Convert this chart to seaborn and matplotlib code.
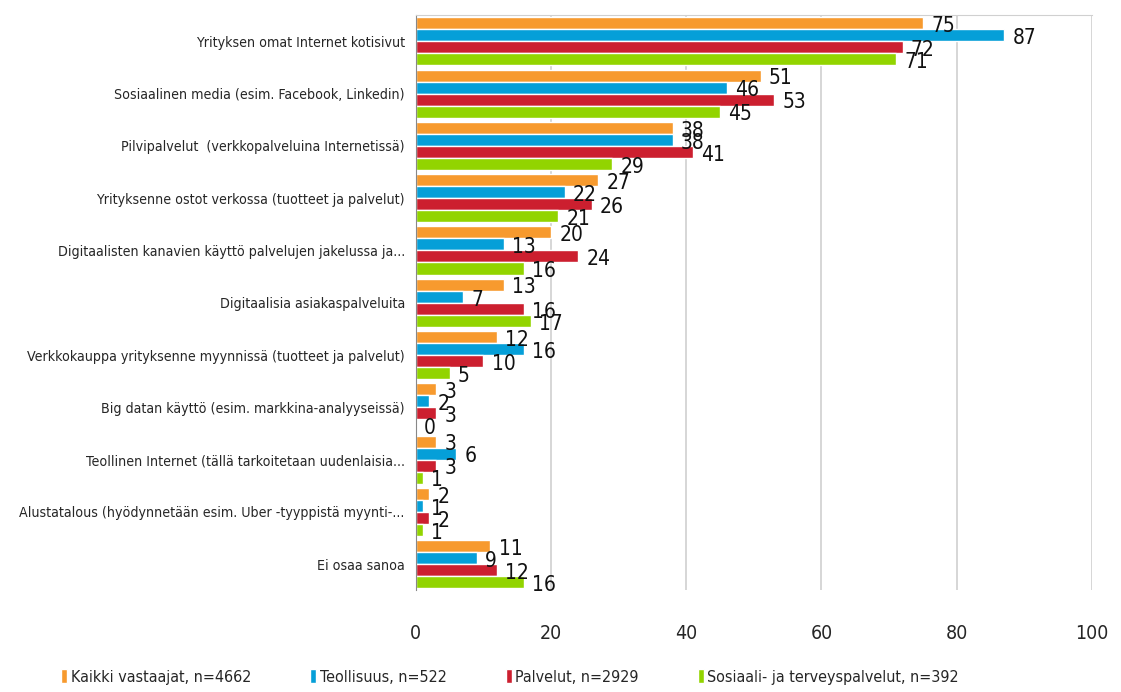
import pandas as pd
import seaborn as sns
import matplotlib.pyplot as plt

# data
categories = [
    "Yrityksen omat Internet kotisivut",
    "Sosiaalinen media (esim. Facebook, Linkedin)",
    "Pilvipalvelut  (verkkopalveluina Internetissä)",
    "Yrityksenne ostot verkossa (tuotteet ja palvelut)",
    "Digitaalisten kanavien käyttö palvelujen jakelussa ja...",
    "Digitaalisia asiakaspalveluita",
    "Verkkokauppa yrityksenne myynnissä (tuotteet ja palvelut)",
    "Big datan käyttö (esim. markkina-analyyseissä)",
    "Teollinen Internet (tällä tarkoitetaan uudenlaisia...",
    "Alustatalous (hyödynnetään esim. Uber -tyyppistä myynti-...",
    "Ei osaa sanoa",
]
series = [
    "Kaikki vastaajat, n=4662",
    "Teollisuus, n=522",
    "Palvelut, n=2929",
    "Sosiaali- ja terveyspalvelut, n=392",
]
kaikki = [75, 51, 38, 27, 20, 13, 12, 3, 3, 2, 11]
teollisuus = [87, 46, 38, 22, 13, 7, 16, 2, 6, 1, 9]
palvelut = [72, 53, 41, 26, 24, 16, 10, 3, 3, 2, 12]
sote = [71, 45, 29, 21, 16, 17, 5, 0, 1, 1, 16]
colors = ["#F79A2E", "#059FD8", "#CC1F2F", "#92D400"]

# long-form table for seaborn
rows = []
for name, vals in zip(series, [kaikki, teollisuus, palvelut, sote]):
    for cat, v in zip(categories, vals):
        rows.append({"kategoria": cat, "ryhma": name, "arvo": v})
df = pd.DataFrame(rows)

sns.set_style("white")
plt.rcParams["font.family"] = ["DejaVu Sans"]
plt.rcParams["font.stretch"] = "condensed"

fig = plt.figure(figsize=(11.21, 6.92), dpi=100)
ax = fig.add_axes([0.371, 0.147, 0.603, 0.831])

sns.barplot(data=df, y="kategoria", x="arvo", hue="ryhma", orient="h",
            palette=colors, width=0.92, saturation=1, ax=ax, legend=True)

# value labels, nudged a little below the bar centre like the original
for cont in ax.containers:
    texts = ax.bar_label(cont, fmt="%d", padding=6, fontsize=15, color="#111111")
    for t in texts:
        t.xyann = (t.xyann[0], t.xyann[1] - 2)

ax.set_xlim(0, 100)
ax.set_xticks(range(0, 101, 20))
ax.tick_params(axis="x", labelsize=14, length=0, pad=24)
ax.tick_params(axis="y", labelsize=10.2, length=0, pad=8)
ax.set_xlabel("")
ax.set_ylabel("")
ax.grid(axis="x", color="#d0d0d0", linewidth=1.2)
ax.set_axisbelow(True)
for s in ["right", "bottom"]:
    ax.spines[s].set_visible(False)
ax.spines["top"].set_color("#d0d0d0")
ax.spines["left"].set_color("#888888")

handles, labels = ax.get_legend_handles_labels()
ax.get_legend().remove()
fig.legend(handles, labels, loc="center", bbox_to_anchor=(0.455, 0.022), ncol=4,
           frameon=False, fontsize=11.5, handlelength=0.4, handleheight=1.0,
           handletextpad=0.2, columnspacing=3.7)

fig.savefig("out.png", dpi=100)
